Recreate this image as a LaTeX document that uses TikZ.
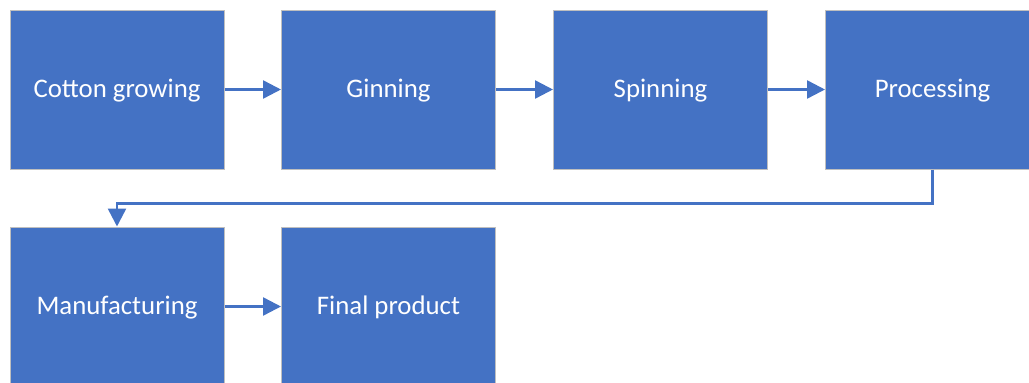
\documentclass[tikz,border=0pt]{standalone}
\usepackage{fontspec}
\setmainfont{Carlito}
\usetikzlibrary{arrows.meta}
\definecolor{boxblue}{HTML}{4472C4}
\definecolor{boxedge}{HTML}{BFBFBF}
\tikzset{
  stage/.style={draw=boxedge, line width=1pt, fill=boxblue, text=white,
    minimum width=214pt, minimum height=159pt, inner sep=0pt,
    text height=19pt, text depth=4pt,
    font=\fontsize{26.8}{30}\selectfont},
  flow/.style={draw=boxblue, line width=2.5pt, -{Triangle[length=18pt, width=18pt]}}
}
\begin{document}
\begin{tikzpicture}[x=1pt, y=-1pt]
    \useasboundingbox (0, 0) rectangle (1029, 383);
    \clip (0, 0) rectangle (1029, 383);
    % top row
    \node[stage] (grow) at (117, 89.5) {Cotton growing};
    \node[stage] (gin) at (388.5, 89.5) {Ginning};
    \node[stage] (spin) at (660.5, 89.5) {Spinning};
    \node[stage] (proc) at (932.5, 89.5) {Processing};
    % bottom row
    \node[stage] (manu) at (117, 306.5) {Manufacturing};
    \node[stage] (final) at (388.5, 306.5) {Final product};
    \draw[flow] (grow) -- (gin);
    \draw[flow] (gin) -- (spin);
    \draw[flow] (spin) -- (proc);
    \draw[flow] (proc.south) -- ++(0, 34) -| (manu.north);
    \draw[flow] (manu) -- (final);
  \end{tikzpicture}
\end{document}
